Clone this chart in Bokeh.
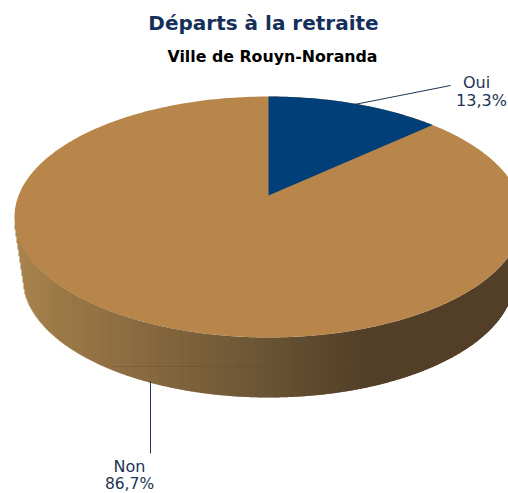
import numpy as np
from bokeh.plotting import figure
from bokeh.models import Range1d
from bokeh.embed import file_html
from bokeh.resources import INLINE

categories = ["Oui", "Non"]
shares = [13.3, 86.7]
share_labels = ["13,3%", "86,7%"]
title_text = "Départs à la retraite"
subtitle_text = "Ville de Rouyn-Noranda"

CX, CY, RX, RY = 268.0, 216.5, 254.0, 120.5
TIP_Y = 195.0
BASE_CY, BASE_RX, BASE_RY = 277.0, 246.0, 120.0
TOP_COLOR = "#B8864A"
BLUE = "#003F78"
INK = "#1C3454"

p = figure(width=508, height=493, output_backend="svg", toolbar_location=None,
           x_range=Range1d(0, 508), y_range=Range1d(493, 0), min_border=0)
p.axis.visible = False
p.grid.visible = False
p.outline_line_color = None
p.background_fill_color = "white"
p.border_fill_color = "white"

# side wall, shaded from left to right
stops_x = [14, 60, 130, 200, 260, 320, 370, 510]
stops_r = [166, 150, 134, 116, 100, 84, 74, 74]
stops_g = [127, 114, 101, 88, 77, 63, 53, 53]
stops_b = [69, 62, 56, 48, 44, 34, 28, 28]
xs = np.arange(14, 509, 1.0)
tops, bots, cols = [], [], []
for x in xs:
    c = x + 0.5
    t = CY + RY * np.sqrt(max(0.0, 1 - ((c - CX) / RX) ** 2))
    u = (c - CX) / BASE_RX
    if abs(u) < 0.992:
        b = BASE_CY + BASE_RY * np.sqrt(1 - u ** 2)
    else:
        b = 226 + (c - 14) * 6.6
    r = np.interp(c, stops_x, stops_r)
    g = np.interp(c, stops_x, stops_g)
    bl = np.interp(c, stops_x, stops_b)
    tops.append(t)
    bots.append(b)
    cols.append("#%02x%02x%02x" % (int(r), int(g), int(bl)))
p.quad(left=xs, right=xs + 1.4, top=tops, bottom=bots, fill_color=cols, line_color=None)

# faint seam on the wall
p.line([112, 390], [366, 366], line_color="#5f4526", line_width=1, line_alpha=0.3)

# top face
th = np.linspace(0, 2 * np.pi, 361)
p.patch(CX + RX * np.cos(th), CY + RY * np.sin(th), fill_color=TOP_COLOR, line_color=None)

# blue slice: rays from the off-centre tip, angles taken from the share
end = 2 * np.pi * shares[0] / sum(shares)
ang = np.linspace(0, end, 60)
dx, dy = RX * np.sin(ang), -RY * np.cos(ang)
oy = TIP_Y - CY
A = (dx / RX) ** 2 + (dy / RY) ** 2
B = 2 * dy * oy / RY ** 2
C = (oy / RY) ** 2 - 1
s = (-B + np.sqrt(B ** 2 - 4 * A * C)) / (2 * A)
px = np.concatenate([[CX], CX + s * dx])
py = np.concatenate([[TIP_Y], TIP_Y + s * dy])
p.patch(px, py, fill_color=BLUE, line_color=None)

# leaders
p.line([354, 450], [104, 85], line_color=INK, line_width=1)
p.line([150, 150], [381, 453], line_color=INK, line_width=1)

def label(x, y, txt, size, color, style="normal", font="DejaVu Sans"):
    p.text(x=[x], y=[y], text=[txt], text_align="center", text_baseline="middle",
           text_font_size=size, text_color=color, text_font_style=style,
           text_font={"value": font})

label(263, 22, title_text, "20px", "#14305A", "bold")
label(272, 56, subtitle_text, "15.8px", "black", "bold")
label(476, 82, categories[0], "16px", INK)
label(481, 100, share_labels[0], "16px", INK)
label(129, 466, categories[1], "16px", INK)
label(129, 483, share_labels[1], "15.5px", INK)

open("out.html", "w").write(file_html(p, INLINE))
